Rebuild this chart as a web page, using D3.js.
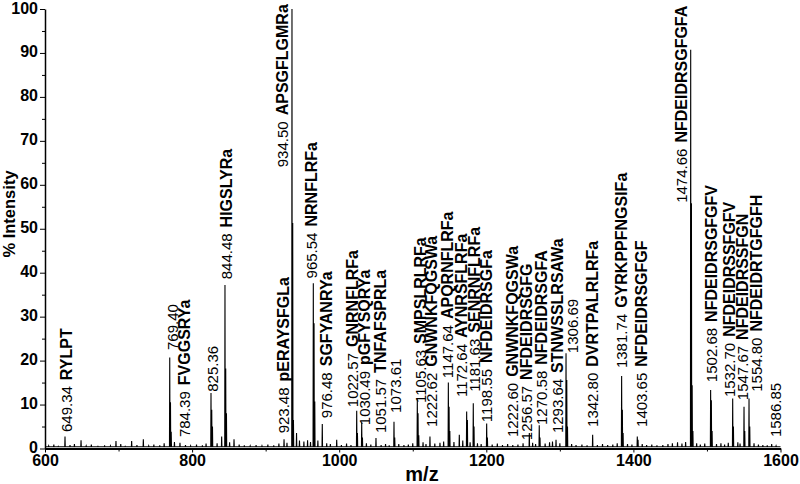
<!DOCTYPE html>
<html>
<head>
<meta charset="utf-8">
<script src="https://cdn.jsdelivr.net/npm/d3@7"></script>
<style>
  body { margin: 0; background: #fff; }
  svg { display: block; font-family: Arial, "Liberation Sans", sans-serif; }
</style>
</head>
<body>
<svg id="chart" width="800" height="484"></svg>
<script>
// ---- Data ----
const xTicks = [600, 800, 1000, 1200, 1400, 1600];
const xMinorTicks = [700, 900, 1100, 1300, 1500];
const yTicks = [0, 10, 20, 30, 40, 50, 60, 70, 80, 90, 100];
const yMinorTicks = [5, 15, 25, 35, 45, 55, 65, 75, 85, 95];

// main peaks [m/z, % intensity]
const peaks = [
  [627.2, 2.7], [649.0, 1.9], [696.5, 1.7], [717.8, 1.7], [733.7, 2.1],
  [769.6, 20.7], [770.6, 10.5], [771.6, 3.8], [783.5, 1.3],
  [825.7, 12.6], [826.7, 8.8], [827.7, 5.0], [840.2, 2.7],
  [844.7, 37.2], [845.7, 18.2], [846.7, 8.0], [857.0, 2.1],
  [925.0, 2.1], [935.8, 100], [936.8, 51.3], [937.8, 6.5], [942.0, 3.5],
  [946.0, 1.8], [952.0, 1.6], [957.0, 1.9],
  [964.8, 37.6], [965.8, 28.5], [966.8, 10.7], [977.0, 5.6], [996.6, 2.0],
  [1023.8, 8.6], [1024.8, 3.5], [1030.6, 5.9], [1031.6, 2.5], [1050.0, 2.4],
  [1074.5, 6.1], [1075.5, 2.5], [1106.2, 11.2], [1107.2, 8.0], [1108.2, 3.0],
  [1123.4, 2.7], [1148.4, 15.0], [1149.4, 9.5], [1150.4, 4.0], [1163.3, 3.1],
  [1173.3, 8.4], [1174.3, 6.5], [1182.3, 10.3], [1183.3, 5.0],
  [1200.5, 5.7], [1201.5, 2.5], [1258.5, 3.5], [1272.0, 5.3], [1273.0, 2.5],
  [1294.8, 2.0], [1308.4, 21.7], [1309.4, 15.6], [1310.4, 5.0], [1344.6, 3.1],
  [1384.0, 16.5], [1385.0, 8.8], [1386.0, 3.5], [1405.3, 2.7], [1406.3, 2.0],
  [1477.9, 90.7], [1478.9, 55.8], [1479.9, 14.4], [1480.9, 4.0],
  [1505.0, 13.3], [1506.0, 11.0], [1507.0, 4.0], [1535.0, 11.4], [1536.0, 5.0],
  [1550.4, 9.5], [1551.4, 4.0], [1557.2, 11.4], [1558.2, 5.0], [1588.0, 1.0]
];

// baseline noise [m/z, % intensity]
const noise = [
  [605, 0.6], [612, 0.9], [618, 0.5], [634, 0.8], [640, 1.0], [656, 0.6],
  [663, 0.9], [672, 0.5], [681, 0.7], [689, 0.6], [703, 1.0], [709, 0.5],
  [725, 0.8], [741, 0.6], [748, 0.9], [756, 0.7], [762, 1.2], [776, 1.5],
  [791, 0.8], [798, 0.6], [806, 0.9], [814, 0.7], [819, 1.1], [834, 1.2],
  [851, 1.4], [864, 0.9], [871, 0.7], [879, 0.6], [887, 0.8], [895, 0.6],
  [903, 0.9], [911, 0.7], [918, 1.1], [929, 1.3], [961, 1.5], [971, 1.8],
  [983, 1.2], [988, 1.0], [1003, 0.8], [1010, 1.1], [1016, 0.8], [1037, 1.2],
  [1043, 0.9], [1057, 0.8], [1063, 1.0], [1068, 0.7], [1081, 1.0], [1088, 0.8],
  [1094, 0.9], [1100, 1.2], [1114, 1.4], [1118, 1.0], [1130, 1.1], [1137, 1.3],
  [1142, 1.6], [1156, 1.5], [1168, 1.8], [1178, 1.4], [1188, 1.2], [1193, 1.0],
  [1208, 0.9], [1215, 1.1], [1222, 0.8], [1229, 1.0], [1236, 0.8], [1243, 0.9],
  [1250, 1.2], [1263, 1.3], [1267, 1.0], [1280, 1.1], [1286, 1.4], [1290, 1.6],
  [1300, 1.2], [1316, 1.0], [1322, 0.8], [1330, 0.9], [1337, 0.7], [1351, 0.8],
  [1358, 1.0], [1365, 0.8], [1372, 0.9], [1378, 1.2], [1392, 1.0], [1398, 0.9],
  [1412, 1.0], [1418, 0.8], [1425, 0.9], [1432, 0.7], [1440, 0.8], [1447, 1.0],
  [1453, 1.2], [1460, 1.4], [1466, 1.1], [1471, 1.5], [1486, 1.2], [1491, 0.9],
  [1497, 1.1], [1513, 1.0], [1519, 1.2], [1524, 0.9], [1529, 1.3], [1542, 1.4],
  [1545, 1.1], [1564, 1.2], [1570, 0.9], [1576, 0.8], [1582, 0.7], [1594, 0.6]
];

// peak annotations
const labelNum = ["649.34", "769.40", "784.39", "825.36", "844.48", "923.48", "934.50",
  "965.54", "976.48", "1022.57", "1030.49", "1051.57", "1073.61", "1105.63", "1222.62",
  "1147.64", "1172.64", "1181.63", "1198.55", "1222.60", "1256.57", "1270.58", "1293.64",
  "1306.69", "1342.80", "1381.74", "1403.65", "1474.66", "1502.68", "1532.70", "1547.67",
  "1554.80", "1586.85"];
const labelName = ["RYLPT", "", "FVGGSRYa", "", "HIGSLYRa", "pERAYSFGLa", "APSGFLGMRa",
  "NRNFLRFa", "SGFYANRYa", "GNRNFLRFa", "pGFYSQRYa", "TNFAFSPRLa", "", "SMPSLRLRFa",
  "GNWNKFQGSWa", "APQRNFLRFa", "AYNRSFLRFa", "SENRNFLRFa", "NFDEIDRSGFa", "GNWNKFQGSWa",
  "NFDEIDRSGFG", "NFDEIDRSGFA", "STNWSSLRSAWa", "", "DVRTPALRLRFa", "GYRKPPFNGSIFa",
  "NFDEIDRSGFGF", "NFDEIDRSGFGFA", "NFDEIDRSGFGFV", "NFDEIDRSSFGFV", "NFDEIDRSSFGN",
  "NFDEIDRTGFGFH", ""];
const labelMz = [636.7, 780.8, 797.5, 835.2, 854.2, 931.7, 931.0, 969.8, 990.2, 1025.6,
  1041.2, 1063.6, 1084.0, 1118.0, 1133.0, 1154.7, 1173.8, 1191.4, 1207.8, 1243.0, 1262.0,
  1282.5, 1304.3, 1324.7, 1351.9, 1391.3, 1418.5, 1472.9, 1513.7, 1538.2, 1555.8, 1574.9,
  1600.7];
const labelBase = [3.75, 22.4, 2.6, 12.9, 38.5, 3.45, 64.0, 38.7, 6.9, 9.4, 5.3, 3.5, 8.1,
  10.35, 4.9, 16.0, 11.7, 12.9, 6.0, 2.6, 1.9, 5.35, 3.5, 21.7, 4.9, 18.3, 4.9, 55.9, 15.1,
  11.7, 11.0, 12.9, 2.6];

// ---- Layout ----
const svg = d3.select("#chart");
const mLeft = 45, mRight = 780.5, mTop = 9, mBottom = 448.5;
const x = d3.scaleLinear().domain([600, 1600]).range([mLeft, mRight]);
const y = d3.scaleLinear().domain([0, 100]).range([mBottom, mTop]);

// spectrum path
const all = peaks.concat(noise).sort((a, b) => a[0] - b[0]);
const pts = [[600, 0.4]];
all.forEach(([m, h]) => { pts.push([m - 0.35, 0.4], [m, h], [m + 0.35, 0.4]); });
pts.push([1600, 0.4]);
const line = d3.line().x(d => x(d[0])).y(d => y(d[1]));
svg.append("path").attr("d", line(pts))
  .attr("fill", "none").attr("stroke", "#000").attr("stroke-width", 1.1)
  .attr("stroke-linejoin", "miter");

// axes
const fontAxis = g => g.selectAll("text")
  .attr("font-family", "Arial, 'Liberation Sans', sans-serif")
  .attr("font-size", 16).attr("font-weight", "bold").attr("fill", "#000");

const yAxis = svg.append("g").attr("transform", `translate(${mLeft},0)`)
  .call(d3.axisLeft(y).tickValues(yTicks).tickSize(5).tickPadding(2).tickSizeOuter(0));
yAxis.call(fontAxis);
yAxis.selectAll("text").attr("dy", "0.25em");
yAxis.select(".domain").attr("stroke-width", 1.5);
svg.append("g").attr("transform", `translate(${mLeft},0)`)
  .call(d3.axisLeft(y).tickValues(yMinorTicks).tickSize(3).tickFormat("").tickSizeOuter(0))
  .select(".domain").remove();

const xAxis = svg.append("g").attr("transform", `translate(0,${mBottom})`)
  .call(d3.axisBottom(x).tickValues(xTicks).tickFormat(d3.format("d"))
    .tickSize(4).tickPadding(2).tickSizeOuter(0));
xAxis.call(fontAxis);
xAxis.select(".domain").attr("stroke-width", 2.2);
svg.append("g").attr("transform", `translate(0,${mBottom})`)
  .call(d3.axisBottom(x).tickValues(xMinorTicks).tickSize(3).tickFormat("").tickSizeOuter(0))
  .select(".domain").remove();

// axis titles
svg.append("text").attr("x", 422).attr("y", 481).attr("text-anchor", "middle")
  .attr("font-size", 20).attr("font-weight", "bold").text("m/z");
svg.append("text").attr("transform", "translate(15,214) rotate(-90)")
  .attr("text-anchor", "middle").attr("font-size", 16.5).attr("font-weight", "bold")
  .text("% Intensity");

// peak labels
labelNum.forEach((num, i) => {
  const t = svg.append("text")
    .attr("transform", `translate(${x(labelMz[i])},${y(labelBase[i])}) rotate(-90)`)
    .attr("fill", "#000");
  t.append("tspan").attr("font-size", 15).text(num);
  if (labelName[i]) t.append("tspan").attr("dx", 6).attr("font-size", 16)
    .attr("font-weight", "bold").text(labelName[i]);
});
</script>
</body>
</html>
